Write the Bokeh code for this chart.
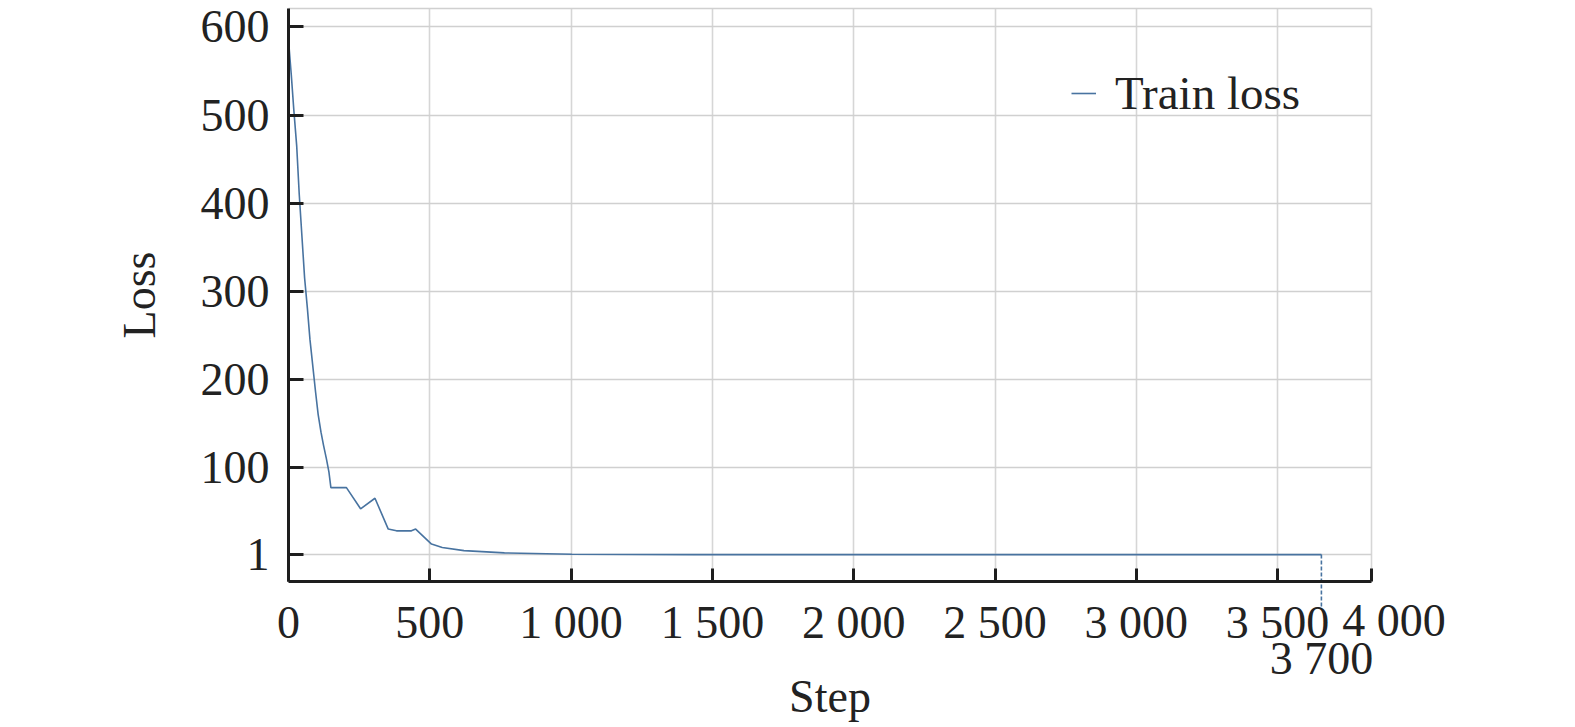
from bokeh.plotting import figure
from bokeh.models import FixedTicker, Range1d, Legend, LegendItem, Label
from bokeh.embed import file_html
from bokeh.resources import INLINE

# ---- data ----
steps = [0, 10, 19, 29, 38, 48, 57, 67, 76, 86, 96, 105, 115, 124, 134, 143,
         150, 205, 255, 306, 353, 382, 435, 450, 506, 544, 621, 764, 1003, 1433, 3655]
loss = [585, 545, 505, 465, 410, 360, 315, 280, 245, 215, 185, 160, 140, 125, 110, 95,
        77, 77, 53, 65, 30, 28, 28, 30, 13, 9, 5.5, 3, 1.5, 1.0, 1.0]
last_step_label = "3 700"
x_ticks = [0, 500, 1000, 1500, 2000, 2500, 3000, 3500, 3832]
x_tick_labels = ["0", "500", "1 000", "1 500", "2 000", "2 500", "3 000", "3 500", ""]
end_tick_label = "4 000"
y_ticks = [1, 100, 200, 300, 400, 500, 600]
y_tick_labels = ["1", "100", "200", "300", "400", "500", "600"]
series_name = "Train loss"

# ---- layout constants (canvas pixels) ----
FONT = "Liberation Serif"
LINE_COLOR = "#4873a0"
TEXT = "#222222"
W, H = 1570, 725
PX_PER_Y = 0.881
PX_PER_X = 0.2826
ZERO_Y = 555            # canvas y of loss == 0
ZERO_X = 288            # canvas x of step == 0
AXIS_Y_PX = 581         # canvas y of x-axis line
TOP_PX = 7.5            # canvas y of the top rule


def data_y(px):
    return (ZERO_Y - px) / PX_PER_Y


def data_x(px):
    return (px - ZERO_X) / PX_PER_X


x_end = x_ticks[-1]
axis_y = data_y(AXIS_Y_PX)
top_rule = data_y(TOP_PX)

p = figure(width=W, height=H, output_backend="svg", toolbar_location=None,
           x_range=Range1d(data_x(0), data_x(W)), y_range=Range1d(data_y(H), data_y(0)),
           min_border_left=0, min_border_right=0, min_border_top=0, min_border_bottom=0)
p.outline_line_color = None
p.background_fill_color = "white"
p.border_fill_color = "white"

# grid (limited to the plotting area)
p.xgrid.ticker = FixedTicker(ticks=x_ticks)
p.xgrid.cross_bounds = (axis_y, top_rule)
p.ygrid.ticker = FixedTicker(ticks=y_ticks + [top_rule])
p.ygrid.cross_bounds = (0, x_end)
p.xgrid.grid_line_color = "#d6d6d6"
p.ygrid.grid_line_color = "#d0d0d0"
p.xgrid.grid_line_width = 1.6
p.ygrid.grid_line_width = 1.6

r = p.line(steps, loss, line_color=LINE_COLOR, line_width=1.6)

# end-of-training marker
p.segment(x0=[steps[-1]], y0=[loss[-1]], x1=[steps[-1]], y1=[data_y(608)],
          line_color=LINE_COLOR, line_width=1.6, line_dash="4 2")
p.add_layout(Label(x=steps[-1], y=data_y(658), text=last_step_label,
                   text_font=FONT, text_font_size="46px", text_color=TEXT,
                   text_align="center", text_baseline="middle"))

# axes
for ax in (p.xaxis[0], p.yaxis[0]):
    ax.axis_line_color = "#1e1e1e"
    ax.axis_line_width = 3
    ax.major_tick_line_color = "#1e1e1e"
    ax.major_tick_line_width = 3
    ax.major_tick_out = 0
    ax.minor_tick_line_color = None
    ax.major_label_text_font = FONT
    ax.major_label_text_font_size = "46px"
    ax.major_label_text_color = TEXT
    ax.axis_label_text_font = FONT
    ax.axis_label_text_font_size = "46px"
    ax.axis_label_text_font_style = "normal"
    ax.axis_label_text_color = TEXT

xa = p.xaxis[0]
xa.fixed_location = axis_y
xa.bounds = (0, x_end)
xa.ticker = FixedTicker(ticks=x_ticks)
xa.major_label_overrides = dict(zip(x_ticks, x_tick_labels))
xa.major_tick_in = 13
xa.major_label_standoff = 15
xa.axis_label = "Step"
xa.axis_label_standoff = 20

# the last x tick label sits just to the right of its tick, as in the reference
p.add_layout(Label(x=x_end, x_offset=(1393.5 - 1371), y=data_y(620), text=end_tick_label,
                   text_font=FONT, text_font_size="46px", text_color=TEXT,
                   text_align="center", text_baseline="middle"))

ya = p.yaxis[0]
ya.fixed_location = 0
ya.bounds = (axis_y, top_rule)
ya.ticker = FixedTicker(ticks=y_ticks)
ya.major_label_overrides = dict(zip(y_ticks, y_tick_labels))
ya.major_tick_in = 15
ya.major_label_standoff = 19
ya.axis_label = "Loss"
ya.axis_label_standoff = 33

legend = Legend(items=[LegendItem(label=series_name, renderers=[r])],
                location=(1071, 605), orientation="vertical",
                label_text_font=FONT, label_text_font_size="47px", label_text_color=TEXT,
                glyph_width=25, label_standoff=19, padding=0, margin=0, spacing=0,
                border_line_color=None, background_fill_alpha=0)
p.add_layout(legend, "center")

open("out.html", "w").write(file_html(p, INLINE))
